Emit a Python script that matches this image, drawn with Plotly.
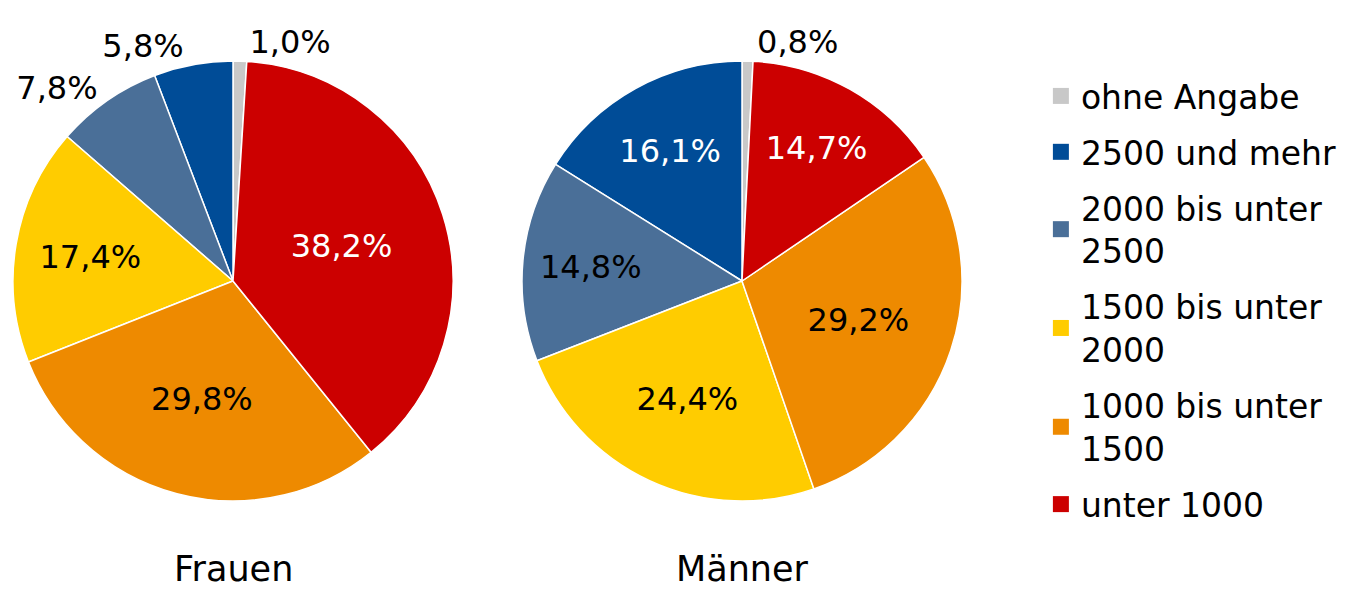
import plotly.graph_objects as go

categories = ["ohne Angabe", "2500 und mehr", "2000 bis unter<br>2500",
              "1500 bis unter<br>2000", "1000 bis unter<br>1500", "unter 1000"]
colors = ["#C8C8C8", "#004C97", "#4A6F98", "#FFCC00", "#EE8A00", "#CC0000"]
label_colors = ["black", "white", "black", "black", "black", "white"]
frauen = [1.0, 5.8, 7.8, 17.4, 29.8, 38.2]
maenner = [0.8, 16.1, 14.8, 24.4, 29.2, 14.7]
titles = ["Frauen", "Männer"]

FONT = "DejaVu Sans"
W, H = 1366, 591

def positions(vals):
    return ["outside" if v < 10 else "inside" for v in vals]

fig = go.Figure()
domains = [(13, 453), (522, 962)]
for vals, dom in zip([frauen, maenner], domains):
    fig.add_trace(go.Pie(
        labels=categories, values=vals, sort=False, direction="counterclockwise",
        rotation=0,
        marker=dict(colors=colors, line=dict(color="white", width=1.5)),
        texttemplate="%{value:.1f}%", textposition=positions(vals),
        insidetextfont=dict(color=label_colors, size=32, family=FONT),
        outsidetextfont=dict(color="black", size=32, family=FONT),
        insidetextorientation="horizontal",
        domain=dict(x=[dom[0] / W, dom[1] / W], y=[1 - 501 / H, 1 - 61 / H]),
        showlegend=False, hoverinfo="label+value",
    ))

# legend entries (one group per category, so the spacing between entries can be set)
for cat, col in zip(categories, colors):
    fig.add_trace(go.Scatter(
        x=[None], y=[None], mode="markers", name=cat, legendgroup=cat,
        marker=dict(symbol="square", size=16, color=col, line=dict(width=0)),
        showlegend=True, hoverinfo="skip",
    ))

for t, dom in zip(titles, domains):
    fig.add_annotation(text=t, x=(dom[0] + dom[1]) / 2 / W, y=1 - 569 / H,
                       xref="paper", yref="paper", xanchor="center", yanchor="middle",
                       showarrow=False,
                       font=dict(size=35, family=FONT, color="black"))

fig.update_layout(
    width=W, height=H, separators=",.",
    margin=dict(l=0, r=0, t=0, b=0),
    paper_bgcolor="white", plot_bgcolor="white",
    font=dict(family=FONT, color="black"),
    xaxis=dict(visible=False), yaxis=dict(visible=False),
    legend=dict(x=0.762, y=0.885, xanchor="left", yanchor="top",
                font=dict(size=33, family=FONT, color="black"),
                traceorder="grouped", tracegroupgap=10,
                itemsizing="trace", itemwidth=30, bgcolor="rgba(0,0,0,0)"),
)

css = ("var s=document.createElement('style');"
       "s.innerHTML='body{margin:0} path.textline{display:none}';"
       "document.head.appendChild(s);")
fig.write_html("out.html", post_script=css, config={"displayModeBar": False})
